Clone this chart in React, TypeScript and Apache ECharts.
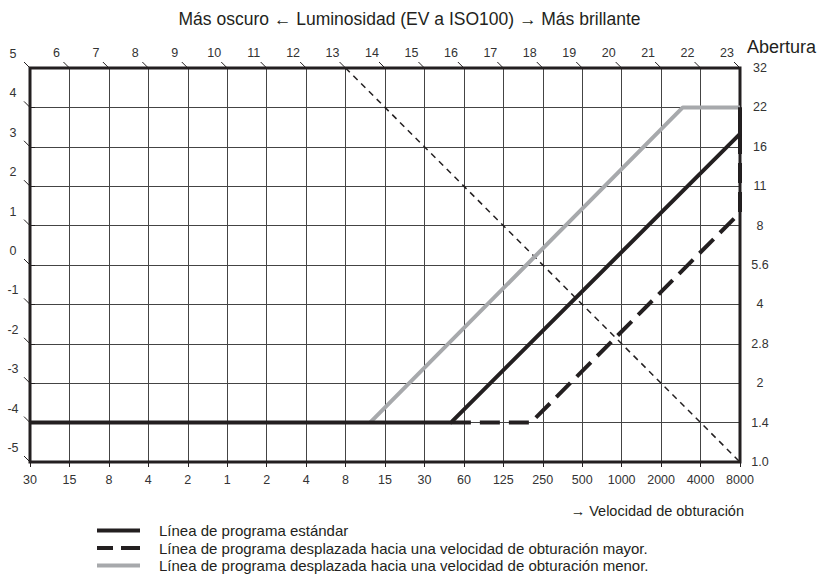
import React, { useEffect, useRef } from 'react';
import * as echarts from 'echarts';

const FONT = "'Liberation Sans', Arial, Helvetica, sans-serif";
const INK = '#231f20';
const GRAY = '#a7a9ac';

// Tick labels
const shutterLabels = ['30', '15', '8', '4', '2', '1', '2', '4', '8', '15', '30', '60', '125', '250', '500', '1000', '2000', '4000', '8000'];
const apertureLabels = ['1.0', '1.4', '2', '2.8', '4', '5.6', '8', '11', '16', '22', '32'];
const evTopLabels = ['6', '7', '8', '9', '10', '11', '12', '13', '14', '15', '16', '17', '18', '19', '20', '21', '22', '23'];
const evLeftLabels = ['-5', '-4', '-3', '-2', '-1', '0', '1', '2', '3', '4', '5'];

// Series names
const nameStandard = 'Línea de programa estándar';
const nameFaster = 'Línea de programa desplazada hacia una velocidad de obturación mayor.';
const nameSlower = 'Línea de programa desplazada hacia una velocidad de obturación menor.';

// Series values: [shutter step index, aperture step index]
const standardLine = [[0, 1], [10.67, 1], [18, 8.33], [18, 9]];
const fasterLine = [[10.67, 1], [12.7, 1], [18, 6.33], [18, 9]];
const slowerLine = [[8.62, 1], [16.55, 9], [18, 9]];
const ev13Line = [[8, 10], [18, 0]];

const X_MAX = shutterLabels.length - 1;
const Y_MAX = apertureLabels.length - 1;

export default function App() {
  const ref = useRef<HTMLDivElement>(null);

  useEffect(() => {
    if (!ref.current) return;
    const chart = echarts.init(ref.current, undefined, { renderer: 'svg' });

    const evTopData = evTopLabels.map((_, i) => [i + 1, Y_MAX]);
    const evLeftData = evLeftLabels.map((_, i) => [0, i]);

    const evRender = (labels: string[], dx: number, dy: number) => (params: any, api: any) => {
      const p = api.coord([api.value(0), api.value(1)]);
      return {
        type: 'group',
        children: [
          {
            type: 'line',
            shape: { x1: p[0] - 6, y1: p[1] - 6, x2: p[0], y2: p[1] },
            style: { stroke: INK, lineWidth: 1 },
          },
          {
            type: 'text',
            x: p[0] + dx,
            y: p[1] + dy,
            style: {
              text: labels[params.dataIndex],
              align: 'center',
              verticalAlign: 'middle',
              fontSize: 12.5,
              fontFamily: FONT,
              fill: '#333',
            },
          },
        ],
      };
    };

    const option: any = {
      animation: false,
      textStyle: { fontFamily: FONT },
      title: [
        {
          text: 'Más oscuro ← Luminosidad (EV a ISO100) → Más brillante',
          left: 'center',
          top: 10,
          padding: 0,
          textStyle: { fontSize: 17.5, fontWeight: 'normal', color: INK, fontFamily: FONT },
        },
        {
          text: 'Abertura',
          left: 747,
          top: 38,
          padding: 0,
          textStyle: { fontSize: 18, fontWeight: 'normal', color: INK, fontFamily: FONT },
        },
        {
          text: '→ Velocidad de obturación',
          right: 75,
          top: 503,
          padding: 0,
          textStyle: { fontSize: 14.5, fontWeight: 'normal', color: INK, fontFamily: FONT },
        },
      ],
      legend: {
        data: [
          { name: nameStandard, icon: 'path://M0,0H43V4H0Z' },
          { name: nameFaster, icon: 'path://M0,0H16V4H0Z M24,0H43V4H24Z' },
          { name: nameSlower, icon: 'path://M0,0H43V4H0Z' },
        ],
        orient: 'vertical',
        left: 97,
        top: 523,
        padding: 0,
        itemWidth: 43,
        itemHeight: 14,
        itemGap: 2.5,
        selectedMode: false,
        itemStyle: { borderWidth: 0 },
        textStyle: { fontSize: 15, lineHeight: 14, color: INK, fontFamily: FONT, padding: [0, 0, 0, 14] },
      },
      grid: { left: 30, top: 68, width: 710, height: 394, show: false },
      xAxis: {
        type: 'value',
        min: 0,
        max: X_MAX,
        interval: 1,
        axisLine: { show: false },
        axisTick: { show: true, length: 5, lineStyle: { color: INK, width: 1 } },
        axisLabel: {
          margin: 11,
          fontSize: 12.5,
          color: '#333',
          fontFamily: FONT,
          formatter: (v: number) => shutterLabels[Math.round(v)] ?? '',
        },
        splitLine: { show: true, lineStyle: { color: '#444', width: 1 } },
      },
      yAxis: {
        type: 'value',
        position: 'right',
        min: 0,
        max: Y_MAX,
        interval: 1,
        axisLine: { show: false },
        axisTick: { show: true, length: 5, lineStyle: { color: INK, width: 1 } },
        axisLabel: {
          margin: 20,
          align: 'center',
          fontSize: 12.5,
          color: '#333',
          fontFamily: FONT,
          formatter: (v: number) => apertureLabels[Math.round(v)] ?? '',
        },
        splitLine: { show: true, lineStyle: { color: '#444', width: 1 } },
      },
      series: [
        {
          type: 'custom',
          name: 'frame',
          z: 2,
          clip: false,
          silent: true,
          data: [[0, 0]],
          renderItem: (_params: any, api: any) => {
            const tl = api.coord([0, Y_MAX]);
            const br = api.coord([X_MAX, 0]);
            return {
              type: 'rect',
              shape: { x: tl[0], y: tl[1], width: br[0] - tl[0], height: br[1] - tl[1] },
              style: { fill: 'none', stroke: INK, lineWidth: 3 },
            };
          },
        },
        {
          type: 'custom',
          name: 'evTop',
          z: 2,
          clip: false,
          silent: true,
          data: evTopData,
          renderItem: evRender(evTopLabels, -13, -15),
        },
        {
          type: 'custom',
          name: 'evLeft',
          z: 2,
          clip: false,
          silent: true,
          data: evLeftData,
          renderItem: evRender(evLeftLabels, -17, -14),
        },
        {
          type: 'line',
          name: 'ev13',
          data: ev13Line,
          symbol: 'none',
          z: 3,
          silent: true,
          lineStyle: { color: INK, width: 1.5, type: [6, 5] },
        },
        {
          type: 'line',
          name: nameSlower,
          data: slowerLine,
          symbol: 'none',
          z: 4,
          clip: false,
          lineStyle: { color: GRAY, width: 4, cap: 'butt' },
          itemStyle: { color: GRAY },
        },
        {
          type: 'line',
          name: nameFaster,
          data: fasterLine,
          symbol: 'none',
          z: 4,
          clip: false,
          lineStyle: { color: INK, width: 4, type: [20, 9], cap: 'butt' },
          itemStyle: { color: INK },
        },
        {
          type: 'line',
          name: nameStandard,
          data: standardLine,
          symbol: 'none',
          z: 5,
          clip: false,
          lineStyle: { color: INK, width: 4, cap: 'butt' },
          itemStyle: { color: INK },
        },
      ],
    };

    chart.setOption(option);
    return () => chart.dispose();
  }, []);

  return (
    <div
      ref={ref}
      style={{ position: 'fixed', left: 0, top: 0, width: 819, height: 583, background: '#fff' }}
    />
  );
}
